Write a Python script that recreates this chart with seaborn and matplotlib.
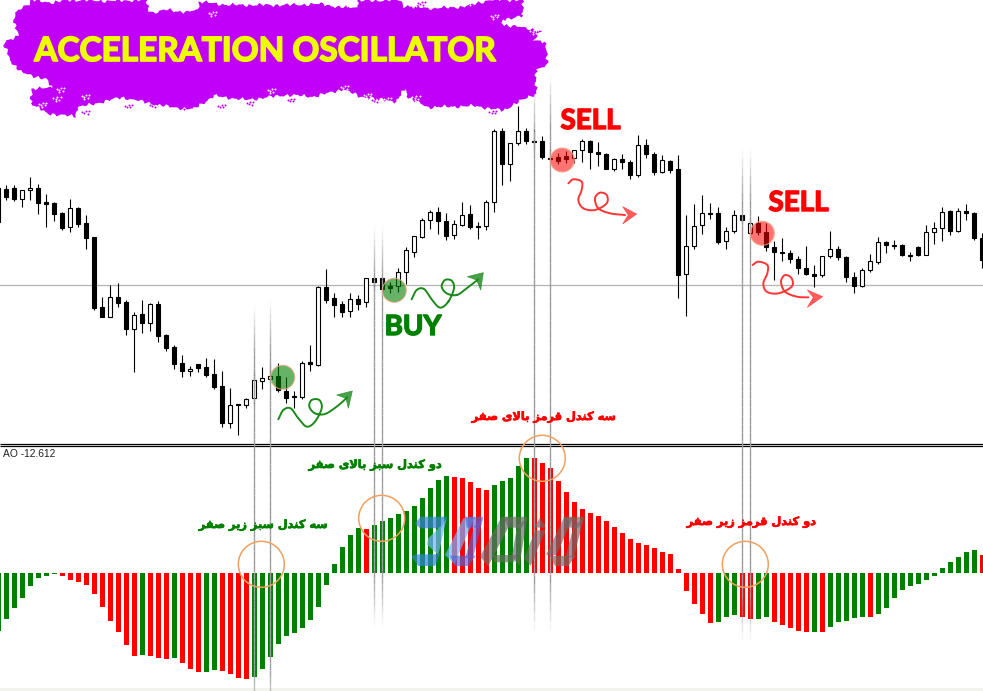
import numpy as np
import pandas as pd
import seaborn as sns
import matplotlib
matplotlib.use("Agg")
import matplotlib.pyplot as plt
import matplotlib.patheffects as pe
from matplotlib.collections import LineCollection
from matplotlib.patches import Circle, Polygon, Rectangle

# ---------- data (price levels on a downward reading scale) ----------
highs = [188,185,185,190.3,177.3,184.3,194.3,202.3,211.7,199,207.3,215.3,237,297,285.3,283.3,300.3,312.3,300.3,303.3,301.3,334.3,345.3,355.3,365.7,364.3,358.3,359.3,371.3,388.3,403.7,398.3,371.3,367,364,363.3,377.3,391.3,361.3,345.3,286.3,269,293.3,301.3,293.3,294.7,278.3,278.3,278.3,281.7,268.3,247.3,236,218.3,210.3,207.3,213.3,220.3,202.3,205.3,222.3,200,129.3,128.3,143.3,106,128.3,129.3,136.3,149.3,153.3,151.3,150.3,139.3,140.3,142.3,153.3,158.3,154.3,160.3,135.3,139.3,151.7,155.3,160.3,155.3,215.3,204.3,195.3,203.3,207.3,227.3,210.3,215.3,218.3,216.3,223.3,241.3,238.3,250.3,256.3,246.3,265.3,256.3,231.3,246.3,256.3,272.3,268.3,254.3,237.3,241.3,240.3,244.3,252.3,246.3,225.3,222.3,207.3,210.3,208.3,204.3,212.3,233]
body_tops = [188.3,189.3,188,190.3,188.3,188.3,202.3,203.3,213.3,208.3,208,223.3,237,307.3,297.3,297.3,302.3,315.3,314.3,304.3,304.3,335.3,347.3,363.3,368.7,364.3,367.3,374.3,386.3,405.3,404,399.3,380.3,378.3,376.3,376.3,391.3,396.3,363.3,362.3,287.3,287.3,298.3,304.3,299.3,299.3,278.3,278.3,278.3,286.3,272.3,250.3,236.3,220.3,212.3,212.3,221.3,224.3,215.3,214.3,226,202.3,131.3,131.3,143.3,131.3,131.3,141.3,141.3,158.3,157.3,156.3,150.3,141.3,141.3,152.3,154.3,159.3,159.3,162.3,145.3,145.3,154.3,160.3,161.3,169.3,246.3,226.3,213.3,213,213.3,231.3,215.3,215.3,223.3,223.3,232.3,247.3,252.3,253.3,259.3,268.3,274.3,256.3,249.3,249.3,257.3,277.3,270.3,261.3,242.3,242.3,245.3,245.3,255.3,247.3,232.3,228.3,212.3,211.3,211.3,211.3,213.3,238.3]
body_bottoms = [222,197,198.7,198.7,190.3,202.7,203.7,213.7,228,227.3,223.7,237.7,307.7,316.7,316.7,302.7,328.7,328.7,322.7,322.7,335.7,347.7,363.7,370.7,370.7,367.7,374.7,387,422.7,422.7,405.3,404.7,398.3,380.7,378.7,390.3,397.7,397.3,396.7,364.3,364.7,299.7,304.7,311.7,311.3,303.7,302.3,281.7,288.7,287.7,286.3,272.3,251.7,236.7,220.3,221.3,236,235.3,224.7,227,227,226.3,202.3,164.3,164.3,143.3,141.3,142.3,157.3,159.3,161.3,159.3,158.3,150.3,152.3,154.3,169.3,169.3,162.3,175.3,175.3,154.3,171.7,171.7,169.7,274.7,274.3,246.3,225.3,213.7,242.3,241.3,231.3,220.3,233.3,232.3,247.3,252.3,252.7,259.3,268.3,274.3,276.3,275.3,256.3,257.3,277.3,286.3,286.3,270.3,262.3,245.3,245.7,255.3,256.3,255.3,254.7,232.3,228.3,231.3,231.3,213.3,238.3,260]
lows = [222,200,201,207,200,214,227,221,230,232,227,249,310,316.7,316.7,307,335,372,333,331,342,350.7,369,377,376,372,377,389,427,428,435,407.7,405,389,383,391.7,403,408,399,371,366,302.7,316.7,316.7,316.7,309.7,306.7,289.7,290,293.3,291.7,284,256.7,238.3,229,234,240,238.7,226,229,239,230.3,212,184.7,180.7,145.3,144,150.3,159.3,160,164.3,163.3,163.3,162.3,169.3,165.7,169.3,171.3,169.3,179.3,177.3,158.3,174.7,172.7,172.7,297.7,315.7,248.7,234.3,219.3,243.7,248.7,233.3,224.3,234.3,235.3,251.3,280.3,261.3,263.3,274.3,275.3,287.3,277.3,258.3,260.3,282.3,293.3,287.3,272.3,264.3,253.3,249.3,256.3,261.3,256.3,255.3,244.3,241.3,235.3,232.3,220.3,240.3,268]
hollow_bars = [2,3,8,13,16,18,23,28,30,31,32,33,37,39,43,45,49,50,51,52,53,56,57,60,61,63,64,71,72,76,79,82,85,86,87,90,91,93,102,103,107,108,109,115,116,117,119]

ao_values = [-58,-46,-35,-25,-13,-5,-3,-1,-3,-7,-9,-12,-21,-34,-48,-59,-72,-83,-82,-83,-85,-86,-85,-90,-96,-99,-99,-97,-98,-101,-105,-106,-104,-96,-84,-71,-63,-60,-55,-47,-34,-12,9,26,38,45,44,48,52,55,59,62,67,75,85,93,97,96,95,91,85,83,88,92,95,107,115,115,110,105,92,81,71,64,60,57,52,46,40,34,30,28,25,21,19,4,-18,-31,-41,-50,-49,-44,-42,-44,-46,-46,-44,-49,-52,-55,-58,-59,-59,-59,-54,-49,-48,-45,-44,-44,-41,-35,-25,-17,-13,-11,-7,-3,5,11,16,21,23,18]
red_ao_bars = [7,8,9,10,11,12,13,14,15,16,18,19,20,22,23,24,27,28,29,30,45,56,57,58,59,60,66,67,68,69,70,71,72,73,74,75,76,77,78,79,80,81,82,83,84,85,86,87,88,92,93,96,97,98,99,100,102,108,122]

first_bar = -1
bars = np.arange(first_bar, first_bar + len(ao_values))

title = "ACCELERATION OSCILLATOR"
buy_label = "BUY"
sell_label = "SELL"
ao_label = "AO -12.612"
notes = ["سه کندل سبز زیر صفر", "دو کندل سبز بالای صفر", "سه کندل قرمز بالای صفر", "دو کندل قرمز زیر صفر"]

# ---------- Persian shaping (matplotlib has no shaper, so use presentation forms) ----------
FORMS = {"ا": (0xFE8D, 0xFE8E), "د": (0xFEA9, 0xFEAA), "ر": (0xFEAD, 0xFEAE), "ز": (0xFEAF, 0xFEB0),
         "و": (0xFEED, 0xFEEE),
         "ب": (0xFE8F, 0xFE90, 0xFE91, 0xFE92), "س": (0xFEB1, 0xFEB2, 0xFEB3, 0xFEB4),
         "ص": (0xFEB9, 0xFEBA, 0xFEBB, 0xFEBC), "ف": (0xFED1, 0xFED2, 0xFED3, 0xFED4),
         "ق": (0xFED5, 0xFED6, 0xFED7, 0xFED8), "ل": (0xFEDD, 0xFEDE, 0xFEDF, 0xFEE0),
         "م": (0xFEE1, 0xFEE2, 0xFEE3, 0xFEE4), "ن": (0xFEE5, 0xFEE6, 0xFEE7, 0xFEE8),
         "ه": (0xFEE9, 0xFEEA, 0xFEEB, 0xFEEC), "ک": (0xFB8E, 0xFB8F, 0xFB90, 0xFB91),
         "ی": (0xFBFC, 0xFBFD, 0xFBFE, 0xFBFF)}

def shape(text):
    out = []
    i = 0
    while i < len(text):
        c = text[i]
        if c not in FORMS:
            out.append(c)
            i += 1
            continue
        prev = text[i - 1] if i else " "
        joins_prev = prev in FORMS and len(FORMS[prev]) == 4
        nxt = text[i + 1] if i + 1 < len(text) else " "
        if c == "ل" and nxt == "ا":
            out.append(chr(0xFEFC if joins_prev else 0xFEFB))
            i += 2
            continue
        joins_next = len(FORMS[c]) == 4 and nxt in FORMS
        f = FORMS[c]
        if joins_prev and joins_next:
            out.append(chr(f[3]))
        elif joins_prev:
            out.append(chr(f[1]))
        elif joins_next:
            out.append(chr(f[2]))
        else:
            out.append(chr(f[0]))
        i += 1
    return "".join(reversed(out))

# ---------- layout ----------
W, H = 983, 691
sns.set_theme(style="white")
plt.rcParams["font.family"] = ["DejaVu Sans"]
fig = plt.figure(figsize=(W / 100, H / 100), dpi=100, facecolor="white")
bar_px = 8.0
x0 = -6.33 / bar_px
x1 = x0 + W / bar_px

ax_price = fig.add_axes([0, (H - 443) / H, 1, 443 / H])
ax_ao = fig.add_axes([0, 0, 1, (H - 446) / H])
over = fig.add_axes([0, 0, 1, 1], zorder=5)
over.set_xlim(0, W)
over.set_ylim(H, 0)
over.patch.set_alpha(0)
over.axis("off")

# ---------- candles ----------
ax_price.set_xlim(x0, x1)
ax_price.set_ylim(443, 0)
ax_price.axhline(285.5, color="#b4b4b4", lw=0.9, zorder=1)
ax_price.vlines(bars, highs, lows, color="black", lw=0.8, zorder=2)
tops = np.array(body_tops)
bottoms = np.array(body_bottoms)
is_hollow = np.isin(bars, hollow_bars)
ax_price.bar(bars, bottoms - tops, bottom=tops, width=0.5,
             color=np.where(is_hollow, "white", "black"), edgecolor="black", linewidth=0.8, zorder=3)
ax_price.axis("off")

# ---------- AO histogram ----------
ao = pd.DataFrame({"bar": bars, "ao": ao_values})
ao["colour"] = np.where(np.isin(bars, red_ao_bars), "down", "up")
sns.barplot(data=ao, x="bar", y="ao", hue="colour", hue_order=["up", "down"],
            palette={"up": "#008000", "down": "#ff0000"}, dodge=False, native_scale=True,
            width=0.625, saturation=1, legend=False, errorbar=None, linewidth=0, ax=ax_ao)
ax_ao.set_xlim(x0, x1)
ax_ao.set_ylim(-118, 127)
ax_ao.axis("off")

# ---------- overlay ----------
over.add_patch(Rectangle((0, 688), W, 3, color="#f3f3ee", lw=0))
over.hlines([443.7, 445.6], 0, W, color="black", lw=0.9)

def faded_line(x, y0, y1, fade=50):
    ys = np.linspace(y0, y1, 60)
    segs = [[(x, a), (x, b)] for a, b in zip(ys[:-1], ys[1:])]
    mid = (ys[:-1] + ys[1:]) / 2
    alpha = np.clip(np.minimum(mid - y0, y1 - mid) / fade, 0, 1)
    cols = [(0.62, 0.62, 0.62, a) for a in alpha]
    over.add_collection(LineCollection(segs, colors=cols, linewidths=1.0, zorder=2))

for x, y0, y1 in [(254.3, 305, 720), (270.3, 300, 720), (374.3, 225, 625), (382.3, 225, 625),
                  (534.3, 85, 630), (550.3, 75, 630), (742.3, 150, 640), (750.3, 150, 640)]:
    faded_line(x, y0, y1)

BANNER_SCALE = np.array([2.8, 3.0])
banner = [(45,40),(60,22),(80,14),(85,0),(150,8),(190,0),(300,3),(410,0),(415,25),(430,40),(470,28),(520,38),(555,28),(555,5),(640,15),(800,15),(905,12),(950,22),(1000,22),(1000,3),(1120,0),(1130,18),(1215,25),(1300,20),(1370,0),(1462,0),(1465,48),(1408,58),(1412,75),(1460,82),(1515,92),(1492,118),(1525,125),(1535,195),(1500,208),(1502,280),(1440,312),(1410,332),(1330,318),(1200,322),(1145,295),(1135,265),(1110,305),(1010,290),(960,268),(880,290),(800,285),(690,300),(600,288),(540,328),(470,320),(400,305),(340,292),(250,315),(215,322),(212,350),(130,340),(88,310),(88,265),(145,265),(130,238),(60,218),(28,180),(10,130),(50,108),(40,60)]

def roughen(poly):
    """Brush-stroke edge: subdivide the outline and ripple it with fixed sines."""
    out = []
    dist = 0.0
    for a, b in zip(poly, np.roll(poly, -1, axis=0)):
        n = max(int(np.hypot(*(b - a)) / 2), 1)
        norm = np.array([(b - a)[1], -(b - a)[0]]) / max(np.hypot(*(b - a)), 1e-6)
        for t in np.arange(n) / n:
            d = dist + t * np.hypot(*(b - a))
            amp = 1.1 * np.sin(d * 0.71) + 0.8 * np.sin(d * 1.93 + 1) + 0.6 * np.sin(d * 0.23 + 2)
            out.append(a + (b - a) * t + norm * amp)
        dist += np.hypot(*(b - a))
    return np.array(out)

PURPLE = "#c000f8"
over.add_patch(Polygon(roughen(np.array(banner) / BANNER_SCALE), closed=True, fc=PURPLE, ec="none", zorder=3))

def cluster(centres, n, spread):
    """Small clumps of flecks laid out on a fixed golden-angle spiral."""
    k = np.arange(1, n + 1)
    ang = k * 2.39996
    rad = spread * np.sqrt(k / n)
    return np.vstack([np.c_[cx + 1.8 * rad * np.cos(ang), cy + rad * np.sin(ang)] for cx, cy in centres])

white_pts = cluster(np.array([(460,12),(510,14),(595,40),(760,272),(965,262),(1030,285),(1085,298),(1165,292),(170,268),(160,296),(120,312),(45,225),(1385,48),(1495,95),(240,290),(600,300),(800,298),(1215,12),(1160,14),(1320,6),(975,10)]) / BANNER_SCALE, 6, 2.6)
over.scatter(white_pts[:, 0], white_pts[:, 1], s=2.0, color="white", lw=0, zorder=3.1)
purple_pts = cluster(np.array([(240,338),(360,318),(430,316),(510,322),(620,318),(700,310),(815,300),(1050,302),(1380,336),(265,300),(580,18),(1180,10)]) / BANNER_SCALE, 5, 2.2)
over.scatter(purple_pts[:, 0], purple_pts[:, 1], s=2.0, color=PURPLE, lw=0, zorder=3.1)

def bold_stroke(w, c):
    return [pe.withStroke(linewidth=w, foreground=c)]

over.text(265, 51.5, title, color="#eeff00", fontsize=24, fontweight="bold", family="Lato",
          ha="center", va="center", zorder=4, path_effects=bold_stroke(1.2, "#eeff00"))

for x, y, col in [(282.7, 377.3, (0, .5, 0, .6)), (394.3, 290.3, (0, .5, 0, .6)),
                  (562.3, 160, (1, 0, 0, .55)), (762.3, 233.3, (1, 0, 0, .55))]:
    over.add_patch(Circle((x, y), 12, fc=col, ec=(0.96, 0.65, 0.5, .8), lw=0.8, zorder=3))
for x, y in [(261.3, 564.3), (381.7, 518.3), (542.3, 458.3), (745.3, 564.3)]:
    over.add_patch(Circle((x, y), 23, fc="none", ec="#f0a060", lw=1.1, zorder=3))

for s, x, y, c in [(buy_label, 413, 327, "#008000"), (sell_label, 590.5, 121, "#ff0000"), (sell_label, 798.5, 203, "#ff0000")]:
    over.text(x, y, s, color=c, fontsize=20, fontweight="bold", family="Lato", ha="center", va="center", zorder=4,
              path_effects=bold_stroke(1.0, c))
over.text(3, 454, ao_label, color="#222222", fontsize=7.4, family="Liberation Sans", ha="left", va="center", zorder=4)
for s, x, y, c in [(notes[0], 263, 525, "#008000"), (notes[1], 375, 465, "#008000"),
                   (notes[2], 543.5, 417, "#ff0000"), (notes[3], 751, 522, "#ff0000")]:
    over.text(x, y, shape(s), color=c, fontsize=8.2, fontweight="bold", ha="center", va="center", zorder=4,
              path_effects=bold_stroke(0.5, c))

def spline(pts, n=16):
    p = np.array(pts, float)
    p = np.vstack([2 * p[0] - p[1], p, 2 * p[-1] - p[-2]])
    t = np.linspace(0, 1, n)[:, None]
    out = []
    for i in range(1, len(p) - 2):
        a, b, c, d = p[i - 1], p[i], p[i + 1], p[i + 2]
        out.append(0.5 * (2 * b + (c - a) * t + (2 * a - 5 * b + 4 * c - d) * t ** 2 + (3 * b - a - 3 * c + d) * t ** 3))
    return np.vstack(out)

def squiggle(pts, head, dx, dy, col):
    pts = np.array(pts, float) / 3 + (dx, dy)
    head = np.array(head, float) / 3 + (dx, dy)
    s = spline(pts)
    over.plot(s[:, 0], s[:, 1], color=col, lw=1.4, solid_capstyle="round", zorder=4)
    over.add_patch(Polygon(head, closed=True, fc=col, ec=col, lw=0.5, alpha=.8, zorder=4))

g = [(25,478),(40,450),(62,445),(85,475),(110,500),(135,485),(155,445),(148,420),(125,420),(118,440),(135,460),(165,462),(200,440),(232,412)]
squiggle(g, [(247,393),(200,405),(228,415),(235,445)], 270, 260, "#1a8a1a")
g2 = [(425,118),(440,90),(462,87),(485,118),(510,143),(535,125),(552,85),(545,62),(525,60),(515,80),(530,100),(560,105),(590,85),(625,58)]
squiggle(g2, [(640,38),(592,50),(620,60),(632,90)], 270, 260, "#1a8a1a")
r1 = [(745,250),(760,238),(785,245),(785,270),(775,300),(790,325),(825,330),(860,310),(860,285),(840,278),(825,295),(835,325),(870,340),(915,345)]
squiggle(r1, [(950,342),(908,320),(925,345),(908,372)], 320, 100, "#ff3535")
r2 = [(308,375),(325,365),(352,375),(352,400),(340,430),(350,455),(385,460),(425,440),(425,415),(405,405),(393,425),(405,455),(440,470),(475,472)]
squiggle(r2, [(518,470),(472,450),(490,472),(472,502)], 650, 140, "#ff3535")

# watermark logo
blue = (0.22, 0.5, 0.85, .7)
sky = (0.45, 0.7, 0.98, .7)
purple = (0.3, 0.4, 0.85, .65)
grey = (0.42, 0.42, 0.42, .68)
logo = [
    ([(45,55),(62,35),(142,35),(125,70),(60,70)], blue),
    ([(85,100),(125,60),(140,40),(115,150),(80,118)], sky),
    ([(35,155),(48,148),(120,148),(105,183),(55,183)], blue),
    ([(135,150),(190,40),(225,35),(175,150),(165,178)], sky),
    ([(195,35),(250,35),(235,68),(200,68)], purple),
    ([(150,152),(228,152),(205,183),(165,183)], purple),
    ([(222,65),(250,38),(220,155),(195,160)], purple),
    ([(240,155),(305,35),(340,38),(265,183)], grey),
    ([(310,35),(382,35),(365,68),(325,68)], grey),
    ([(278,150),(350,150),(342,172),(283,172)], grey),
    ([(352,62),(382,38),(358,183),(335,155)], grey),
    ([(420,38),(438,68),(402,68)], grey),
    ([(372,160),(406,76),(436,76),(392,183)], grey),
    ([(438,150),(490,42),(520,35),(470,150)], grey),
    ([(490,35),(552,35),(535,68),(495,68)], grey),
    ([(450,152),(528,152),(505,183),(465,183)], grey),
    ([(520,65),(552,38),(522,155),(496,158)], grey),
]
for pts, col in logo:
    over.add_patch(Polygon(np.array(pts) / 3 + (400, 505), closed=True, fc=col, ec="none", zorder=3))

fig.savefig("out.png", dpi=100)
